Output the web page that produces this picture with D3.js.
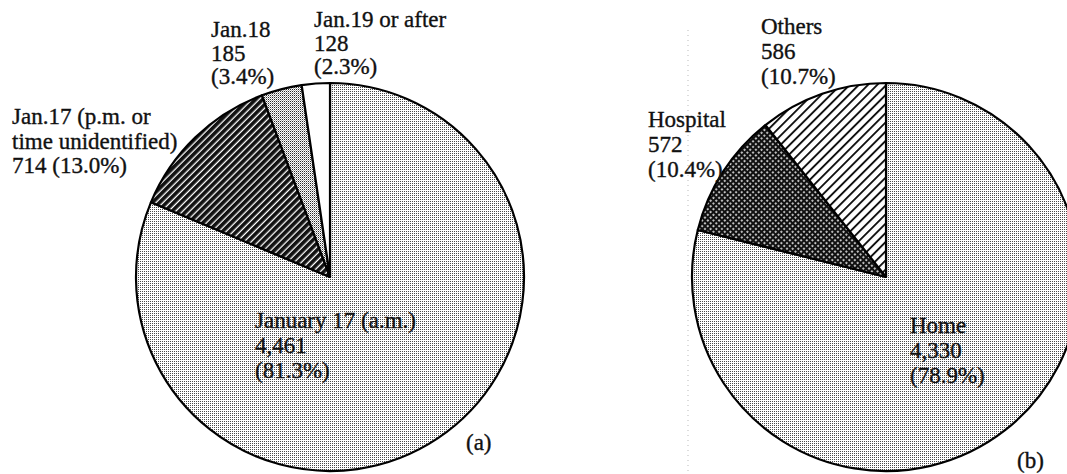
<!DOCTYPE html>
<html>
<head>
<meta charset="utf-8">
<script src="https://cdn.jsdelivr.net/npm/d3@7"></script>
<style>
html,body{margin:0;padding:0;background:#fff;}
svg{display:block;}
text{font-family:"Liberation Serif","Times New Roman",serif;font-size:23px;fill:#111;stroke:#111;stroke-width:0.35px;}
</style>
</head>
<body>
<svg id="chart" width="1067" height="474"></svg>
<script>
// ---- data ----
const dateCategories = ["January 17 (a.m.)", "Jan.17 (p.m. or time unidentified)", "Jan.18", "Jan.19 or after"];
const dateValues = [4461, 714, 185, 128];
const datePercents = ["81.3%", "13.0%", "3.4%", "2.3%"];

const placeCategories = ["Home", "Hospital", "Others"];
const placeValues = [4330, 572, 586];
const placePercents = ["78.9%", "10.4%", "10.7%"];

const panelLabels = ["(a)", "(b)"];

const svg = d3.select("#chart");
const defs = svg.append("defs");

// light stipple
const pLight = defs.append("pattern").attr("id","stipple").attr("width",2).attr("height",2).attr("patternUnits","userSpaceOnUse");
pLight.append("rect").attr("width",2).attr("height",2).attr("fill","#fff");
pLight.append("rect").attr("x",0).attr("y",0).attr("width",1).attr("height",1).attr("fill","#4a4a4a");

// denser stipple
const pDense = defs.append("pattern").attr("id","stipple2").attr("width",2).attr("height",2).attr("patternUnits","userSpaceOnUse");
pDense.append("rect").attr("width",2).attr("height",2).attr("fill","#fff");
pDense.append("rect").attr("x",0).attr("y",0).attr("width",1).attr("height",1).attr("fill","#2a2a2a");
pDense.append("rect").attr("x",1).attr("y",1).attr("width",1).attr("height",1).attr("fill","#aaa");

// dark hatch
const pDark = defs.append("pattern").attr("id","darkHatch").attr("width",5).attr("height",5).attr("patternUnits","userSpaceOnUse").attr("patternTransform","rotate(45)");
pDark.append("rect").attr("width",5).attr("height",5).attr("fill","#fff");
pDark.append("rect").attr("x",0).attr("width",3.7).attr("height",5).attr("fill","#111");

// light hatch
const pHatch = defs.append("pattern").attr("id","hatch").attr("width",6.5).attr("height",6.5).attr("patternUnits","userSpaceOnUse").attr("patternTransform","rotate(45)");
pHatch.append("rect").attr("width",6.5).attr("height",6.5).attr("fill","#fff");
pHatch.append("rect").attr("x",0).attr("width",1.9).attr("height",6.5).attr("fill","#111");

// crosshatch
const pCross = defs.append("pattern").attr("id","cross").attr("width",4).attr("height",4).attr("patternUnits","userSpaceOnUse").attr("patternTransform","rotate(45)");
pCross.append("rect").attr("width",4).attr("height",4).attr("fill","#111");
pCross.append("rect").attr("x",1.2).attr("y",1.2).attr("width",1.7).attr("height",1.7).attr("fill","#fff");

const dateFills = ["url(#stipple)","url(#darkHatch)","url(#stipple2)","#fff"];
const placeFills = ["url(#stipple)","url(#cross)","url(#hatch)"];

const pie = d3.pie().sort(null).value(d=>d);

function drawPie(values, fills, cx, cy, r){
  const arc = d3.arc().innerRadius(0).outerRadius(r);
  const g = svg.append("g").attr("transform",`translate(${cx},${cy})`);
  g.selectAll("path").data(pie(values)).join("path")
    .attr("d",arc).attr("fill",(d,i)=>fills[i])
    .attr("stroke","#000").attr("stroke-width",2.2).attr("stroke-linejoin","round");
  return g;
}

// faint dotted scanner line
svg.append("line").attr("x1",688).attr("x2",688).attr("y1",30).attr("y2",474)
  .attr("stroke","#aaa").attr("stroke-width",0.8).attr("stroke-dasharray","1,4");

drawPie(dateValues, dateFills, 330, 277, 194);
drawPie(placeValues, placeFills, 886, 277, 194);

function label(x, y, lines, lh){
  const t = svg.append("text").attr("x",x).attr("y",y);
  lines.forEach((s,i)=>t.append("tspan").attr("x",x).attr("y",y+i*lh).text(s));
}
const fmt = d3.format(",");

label(12, 124, ["Jan.17 (p.m. or", "time unidentified)", `${fmt(dateValues[1])} (${datePercents[1]})`], 24.5);
label(211, 37, [dateCategories[2], fmt(dateValues[2]), `(${datePercents[2]})`], 23.5);
label(314, 27, [dateCategories[3], fmt(dateValues[3]), `(${datePercents[3]})`], 23.5);
label(255, 328, [dateCategories[0], fmt(dateValues[0]), `(${datePercents[0]})`], 25);
svg.append("text").attr("x",466).attr("y",450).text(panelLabels[0]);

label(761, 34, [placeCategories[2], fmt(placeValues[2]), `(${placePercents[2]})`], 25);
label(648, 127, [placeCategories[1], fmt(placeValues[1]), `(${placePercents[1]})`], 25);
label(910, 333, [placeCategories[0], fmt(placeValues[0]), `(${placePercents[0]})`], 25);
svg.append("text").attr("x",1017).attr("y",468).text(panelLabels[1]);
</script>
</body>
</html>
